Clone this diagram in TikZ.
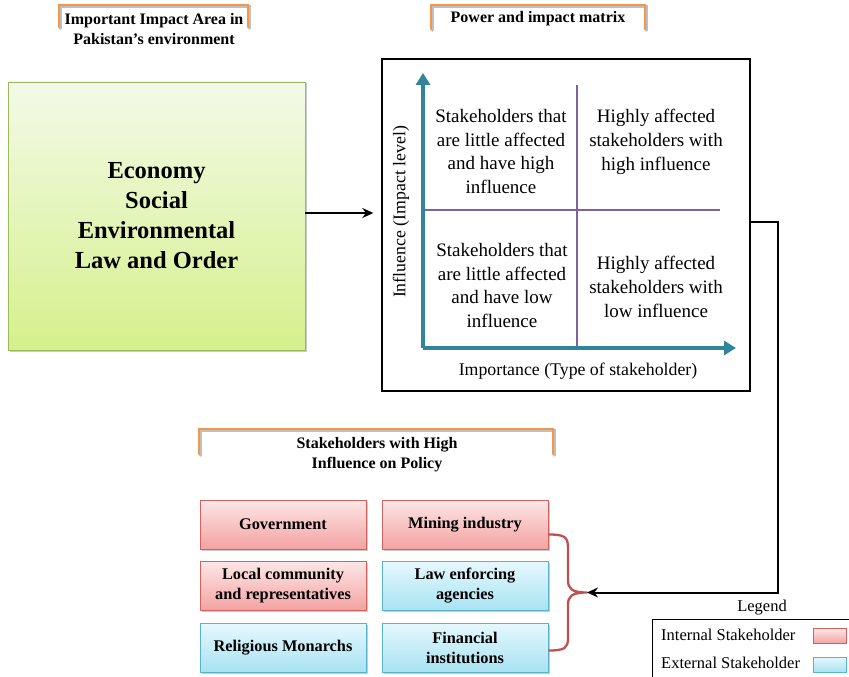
\documentclass[tikz,border=0pt]{standalone}
\usepackage{fontspec}
\setmainfont{Liberation Serif}
\usetikzlibrary{arrows.meta,shadows,calc}

\definecolor{bracketorange}{HTML}{F79646}
\definecolor{axisteal}{HTML}{31849B}
\definecolor{gridpurple}{HTML}{7F63A1}
\definecolor{greentop}{HTML}{F3FAE8}
\definecolor{greenbot}{HTML}{D5F08C}
\definecolor{greenedge}{HTML}{9BBB59}
\definecolor{redtop}{HTML}{FDE6E6}
\definecolor{redbot}{HTML}{F4A2A2}
\definecolor{rededge}{HTML}{D0625F}
\definecolor{bluetop}{HTML}{E6F8FD}
\definecolor{bluebot}{HTML}{A8E2F3}
\definecolor{blueedge}{HTML}{5AB3CE}
\definecolor{bracered}{HTML}{C0504D}

\tikzset{
  heading/.style={font=\bfseries\fontsize{16}{20}\selectfont, align=center, inner sep=0},
  bracketline/.style={draw=bracketorange, line width=2.5pt, line cap=round},
  bracketshade/.style={draw=black!25, line width=2.5pt, line cap=round},
  boxshadow/.style={drop shadow={shadow xshift=1.5pt, shadow yshift=-1.5pt, opacity=.35, fill=black!60}},
  stakebox/.style={rectangle, minimum width=166pt, minimum height=49pt, inner sep=2pt,
    align=center, font=\bfseries\fontsize{16.3}{20}\selectfont, line width=0.9pt, boxshadow},
  internal/.style={stakebox, top color=redtop, bottom color=redbot, draw=rededge},
  external/.style={stakebox, top color=bluetop, bottom color=bluebot, draw=blueedge},
  quadtext/.style={font=\fontsize{19}{23.7}\selectfont, align=center, inner sep=0},
  axislabel/.style={font=\fontsize{17.8}{20}\selectfont, inner sep=0},
  axisline/.style={draw=axisteal, line width=4pt, -{Triangle[length=12pt, width=14pt]}},
  gridline/.style={draw=gridpurple, line width=1.8pt},
  flow/.style={draw=black, line width=2pt, -{Stealth[length=11pt, width=10pt]}},
  legendtext/.style={font=\fontsize{16.5}{20}\selectfont, inner sep=0},
}

\begin{document}
\begin{tikzpicture}[x=1pt, y=-1pt]
\useasboundingbox (0,0) rectangle (849,677);

% ---------- headings with orange brackets ----------
\draw[bracketshade] (60.5,28.5) -- (60.5,6.5) -- (249.5,6.5) -- (249.5,28.5);
\draw[bracketline] (59,27) -- (59,5) -- (248,5) -- (248,27);
\node[heading] (areaTitle) at (154,29) {Important Impact Area in\\Pakistan’s environment};

\draw[bracketshade] (432.5,30.5) -- (432.5,6.5) -- (646.5,6.5) -- (646.5,30.5);
\draw[bracketline] (431,29) -- (431,5) -- (645,5) -- (645,29);
\node[heading] (matrixTitle) at (538,19) {Power and impact matrix};

\draw[bracketshade] (200.5,455.5) -- (200.5,430.5) -- (554.5,430.5) -- (554.5,455.5);
\draw[bracketline] (199,454) -- (199,429) -- (553,429) -- (553,454);
\node[heading] (policyTitle) at (377,455) {Stakeholders with High\\Influence on Policy};

% ---------- impact areas ----------
\node[rectangle, minimum width=297pt, minimum height=268pt, top color=greentop, bottom color=greenbot,
      draw=greenedge, line width=0.9pt, boxshadow, align=center,
      font=\bfseries\fontsize{24.5}{30}\selectfont] (areas) at (156.5,216)
      {Economy\\Social\\Environmental\\Law and Order};

% ---------- power / impact matrix ----------
\node[rectangle, draw=black, line width=1.4pt, minimum width=368pt, minimum height=332pt] (matrix) at (566,225) {};

\coordinate (origin) at (423,348);
\coordinate (yTop) at (423,73);
\coordinate (xEnd) at (736,348);
\coordinate (vTop) at (577,85);
\coordinate (vBot) at (577,348);
\coordinate (hLeft) at (423,210);
\coordinate (hRight) at (720,210);

\draw[gridline] (vTop) -- (vBot);
\draw[gridline] (hLeft) -- (hRight);
\draw[axisline] (origin) -- (yTop);
\draw[axisline] (origin) -- (xEnd);

\node[quadtext] (qTL) at (501,151.5) {Stakeholders that\\are little affected\\and have high\\influence};
\node[quadtext] (qTR) at (656,142) {Highly affected\\stakeholders with\\high influence};
\node[quadtext] (qBL) at (502,285.5) {Stakeholders that\\are little affected\\and have low\\influence};
\node[quadtext] (qBR) at (656,287) {Highly affected\\stakeholders with\\low influence};

\node[axislabel, rotate=90] (yLabel) at (401,212) {Influence (Impact level)};
\node[axislabel] (xLabel) at (578,371) {Importance (Type of stakeholder)};

\draw[flow, shorten >=8pt] ([yshift=3pt]areas.east) -- ([yshift=3pt]areas.east -| matrix.west);

% ---------- stakeholders ----------
\node[internal] (gov)  at (283,524.5) {Government};
\node[internal] (mine) at (465,524.5) {Mining industry};
\node[internal] (local) at (283,586) {Local community\\and representatives};
\node[external] (law)  at (465,586) {Law enforcing\\agencies};
\node[external] (rel)  at (283,647.5) {Religious Monarchs};
\node[external] (fin)  at (465,647.5) {Financial\\institutions};

% brace grouping the right-hand column
\coordinate (braceTip) at (587,592.5);
\draw[draw=bracered, line width=2.3pt, line join=round]
  ([yshift=-10pt]mine.east) .. controls (565,534.5) and (568,537) .. (568,548)
  -- (568,580) .. controls (568,589) and (572,592.5) .. (braceTip)
  .. controls (572,592.5) and (568,596) .. (568,605)
  -- (568,638) .. controls (568,648) and (565,650.5) .. ([yshift=-3pt]fin.east);

% connector from the matrix down to the stakeholder group
\coordinate (bendTop) at (778,222);
\draw[flow, line join=miter] ([yshift=3pt]matrix.east) -- (bendTop) |- (braceTip);

% ---------- legend ----------
\node[legendtext] (legendTitle) at (762,608) {Legend};
\draw[black, line width=1pt] (870,619) -- (652,619) -- (652,690);
\node[legendtext, anchor=west] (intText) at (661,635) {Internal Stakeholder};
\node[legendtext, anchor=west] (extText) at (661,663) {External Stakeholder};
\node[rectangle, minimum width=33pt, minimum height=15pt, top color=redtop, bottom color=redbot,
      draw=rededge, line width=0.9pt] (intSwatch) at (829.5,636) {};
\node[rectangle, minimum width=33pt, minimum height=15pt, top color=bluetop, bottom color=bluebot,
      draw=blueedge, line width=0.9pt] (extSwatch) at (829.5,664.5) {};

\end{tikzpicture}
\end{document}
